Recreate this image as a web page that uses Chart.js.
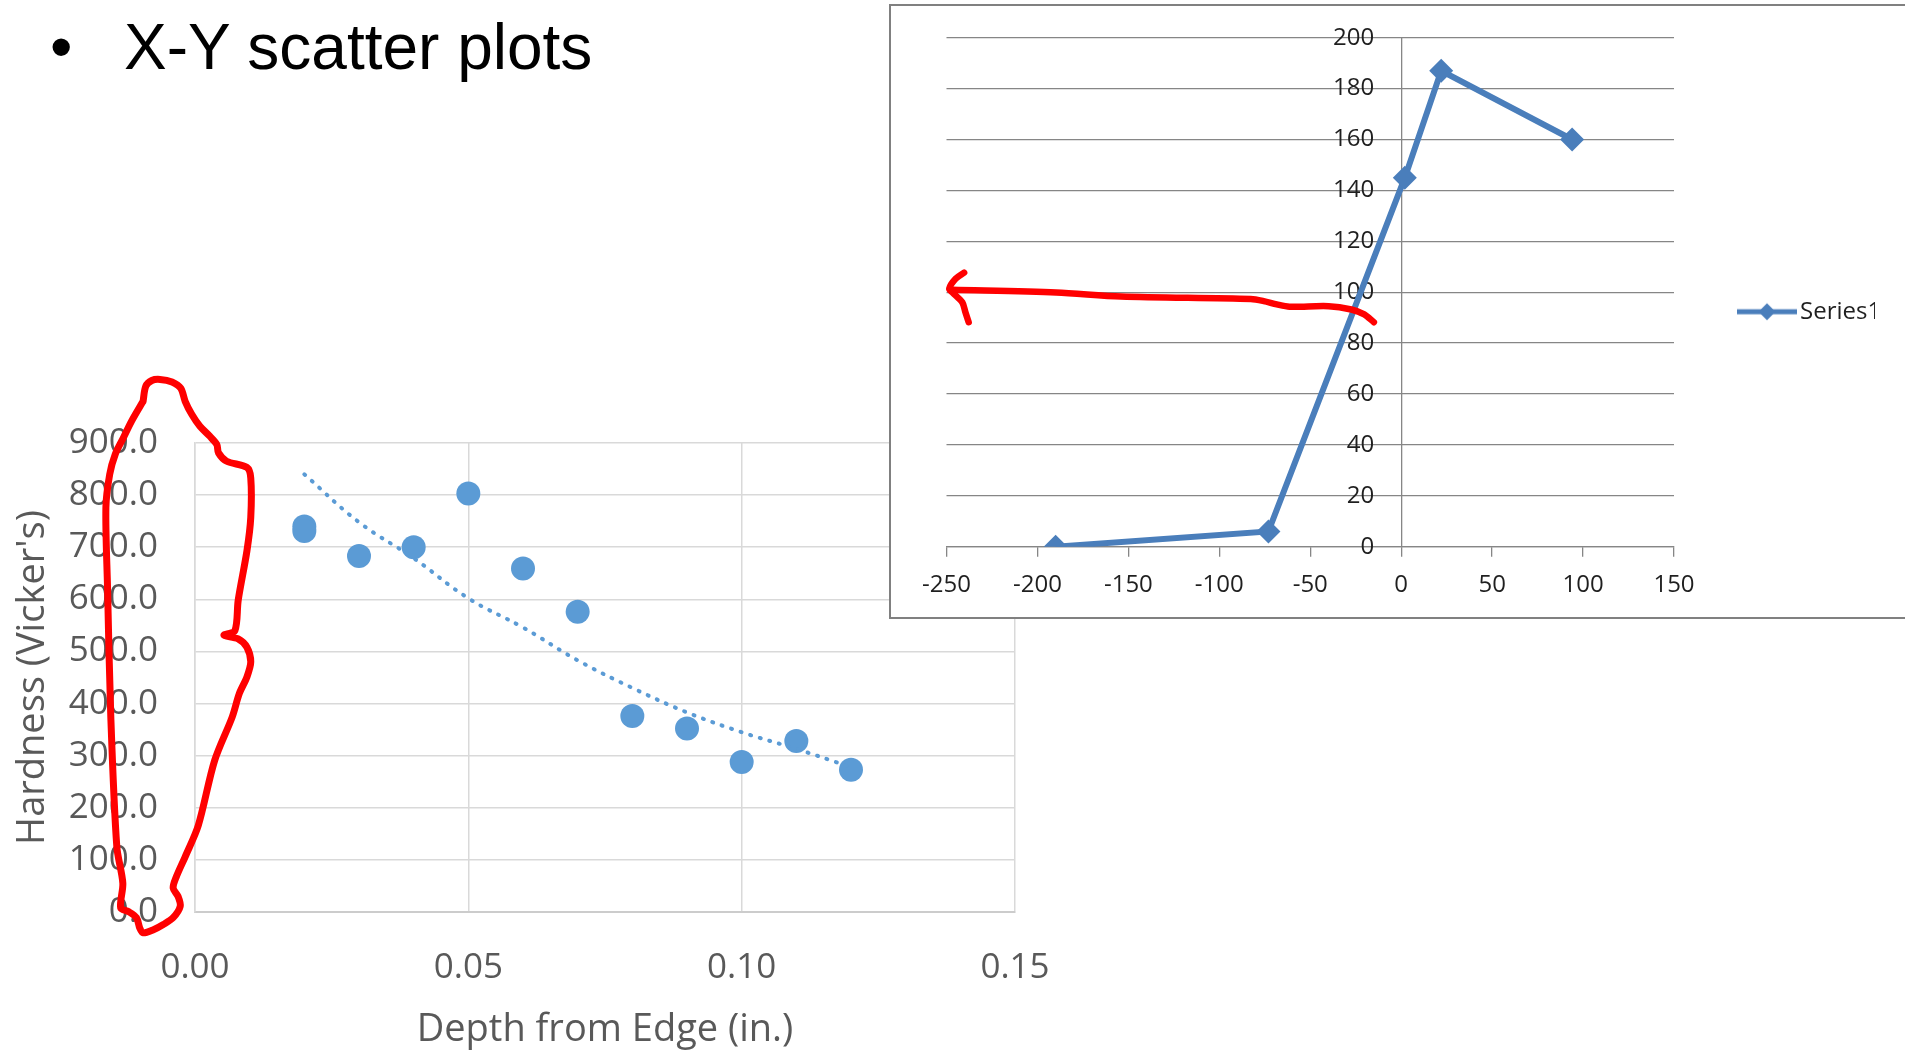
<!DOCTYPE html>
<html>
<head>
<meta charset="utf-8">
<script src="https://cdn.jsdelivr.net/npm/chart.js@4.4.1/dist/chart.umd.min.js"></script>
<style>
  html, body { margin: 0; padding: 0; background: #fff; }
  body { width: 1905px; height: 1051px; overflow: hidden; position: relative; }
  .bullet, .heading { position: absolute; top: 15px; font: 64px 'Liberation Sans', Arial, sans-serif; line-height: 1; color: #000; white-space: nowrap; }
  .bullet  { left: 50px; }
  .heading { left: 124px; }
  #hardness { position: absolute; left: 0; top: 360px; }
  .inset { position: absolute; left: 889px; top: 4px; width: 1030px; height: 611px; border: 2px solid #808080; border-right: none; background: #fff; z-index: 2; }
  #series { display: block; }
</style>
</head>
<body>
<div class="bullet">•</div>
<div class="heading">X-Y scatter plots</div>
<canvas id="hardness" width="1090" height="691"></canvas>
<div class="inset"><canvas id="series" width="1014" height="611"></canvas></div>
<script>
/* ─── Data: hardness chart ───────────────────────────────────────────────── */
const depth         = [0.02, 0.02, 0.03, 0.04, 0.05, 0.06, 0.07, 0.08, 0.09, 0.10, 0.11, 0.12];
const hardness      = [740, 731, 683, 700, 803, 659, 576, 376, 352, 288, 328, 273];
const trendDepth    = [0.02, 0.03, 0.04, 0.05, 0.06, 0.07, 0.08, 0.09, 0.10, 0.11, 0.12];
const trendHardness = [840, 748, 679, 602, 546, 483, 430, 383, 345, 313, 278];
const depthTicks    = [0, 0.05, 0.10, 0.15];
const hardnessTicks = [0, 100, 200, 300, 400, 500, 600, 700, 800, 900];

// red freehand loop in axis units
const loopX = [-0.0095, -0.0090, -0.0079, -0.0064, -0.0042, -0.0026, -0.0018, -0.0006, 0.0009, 0.0027,
               0.0040, 0.0043, 0.0058, 0.0095, 0.0102, 0.0102, 0.0095, 0.0079, 0.0073, 0.0053,
               0.0079, 0.0095, 0.0102, 0.0095, 0.0081, 0.0068, 0.0036, 0.0006, -0.0018, -0.0034,
               -0.0040, -0.0031, -0.0027, -0.0040, -0.0058, -0.0076, -0.0095, -0.0101, -0.0107, -0.0122,
               -0.0136, -0.0132, -0.0143, -0.0154, -0.0160, -0.0163, -0.0156, -0.0146, -0.0131, -0.0116, -0.0095];
const loopY = [980, 1009, 1020, 1022, 1017, 1005, 980, 955, 932, 913,
               897, 881, 865, 853, 833, 757, 693, 598, 540, 531,
               524, 508, 480, 451, 419, 374, 291, 166, 106, 68,
               46, 30, 11, -11, -24, -34, -40, -31, -11, 1,
               8, 55, 125, 374, 623, 776, 840, 878, 910, 942, 980];

/* ─── Data: inset chart ──────────────────────────────────────────────────── */
const seriesX     = [-190, -73, 2, 22, 94];
const seriesY     = [0, 6, 145, 187, 160];
const insetXTicks = [-250, -200, -150, -100, -50, 0, 50, 100, 150];
const insetYTicks = [0, 20, 40, 60, 80, 100, 120, 140, 160, 180, 200];

// red arrow annotation
const arrowX = [-15, -20.3, -27.4, -39.9, -61.4, -68.4, -75.6, -82.7, -154, -189.7, -246.7];
const arrowY = [88.2, 91.3, 93.2, 94.5, 94.3, 95.2, 96.5, 97.3, 98.3, 99.9, 101];
const hookX  = [-240.3, -245, -248.5, -246.7, -241.3, -239.6, -237.8];
const hookY  = [107.7, 105.3, 101.4, 99.9, 96, 92.1, 88.2];

/* ─── Helpers ────────────────────────────────────────────────────────────── */
const pts      = (xs, ys) => xs.map((x, i) => ({ x, y: ys[i] }));
const fixTicks = vals => scale => { scale.ticks = vals.map(value => ({ value })); };

const RED   = '#ff0000';
const LBLUE = '#5b9bd5';
const BLUE  = '#4a7ebb';
const GREY  = '#595959';
const SANS  = "'Open Sans', sans-serif";

Chart.defaults.animation = false;
Chart.defaults.events = [];

/* ─── Hardness chart ─────────────────────────────────────────────────────── */
new Chart(document.getElementById('hardness'), {
  type: 'scatter',
  data: {
    datasets: [
      {
        label: 'Annotation',
        data: pts(loopX, loopY),
        showLine: true,
        borderColor: RED,
        borderWidth: 7,
        borderCapStyle: 'round',
        borderJoinStyle: 'round',
        pointRadius: 0,
        tension: 0.3,
        clip: false,
        order: 0
      },
      {
        label: 'Expon. trend',
        data: pts(trendDepth, trendHardness),
        showLine: true,
        borderColor: LBLUE,
        borderWidth: 4,
        borderDash: [1, 9],
        borderCapStyle: 'round',
        pointRadius: 0,
        tension: 0.4,
        order: 1
      },
      {
        label: 'Hardness',
        data: pts(depth, hardness),
        pointRadius: 12,
        pointBackgroundColor: LBLUE,
        pointBorderWidth: 0,
        order: 2
      }
    ]
  },
  options: {
    responsive: false,
    layout: { padding: { top: 83, right: 75, bottom: 0, left: 0 } },
    plugins: { legend: { display: false }, tooltip: { enabled: false } },
    scales: {
      x: {
        type: 'linear', min: 0, max: 0.15,
        afterBuildTicks: fixTicks(depthTicks),
        afterFit: s => { s.height = 139; },
        grid:   { color: '#d9d9d9', lineWidth: 1.5, drawTicks: false },
        border: { color: '#cccccc', width: 2 },
        ticks:  { padding: 35, color: GREY, font: { family: SANS, size: 35 }, callback: v => v.toFixed(2) },
        title:  { display: true, text: 'Depth from Edge (in.)', color: GREY,
                  font: { family: SANS, size: 38, lineHeight: 1 }, padding: { top: 0, bottom: 2 } }
      },
      y: {
        type: 'linear', min: 0, max: 900,
        afterBuildTicks: fixTicks(hardnessTicks),
        afterFit: s => { s.width = 195; },
        grid:   { color: '#d9d9d9', lineWidth: 1.5, drawTicks: false },
        border: { color: '#d9d9d9', width: 1.5 },
        ticks:  { padding: 37, color: GREY, font: { family: SANS, size: 35 }, callback: v => v.toFixed(1) },
        title:  { display: true, text: "Hardness (Vicker's)", color: GREY,
                  font: { family: SANS, size: 38 }, padding: { top: 10, bottom: 0 } }
      }
    }
  }
});

/* ─── Inset chart ────────────────────────────────────────────────────────── */
// legend symbol: line with a diamond, like the spreadsheet legend
const legendMark = document.createElement('canvas');
legendMark.width = 60;
legendMark.height = 20;
const mk = legendMark.getContext('2d');
mk.strokeStyle = BLUE;
mk.lineWidth = 5;
mk.beginPath(); mk.moveTo(0, 10); mk.lineTo(60, 10); mk.stroke();
mk.fillStyle = BLUE;
mk.beginPath(); mk.moveTo(30, 1.5); mk.lineTo(38.5, 10); mk.lineTo(30, 18.5); mk.lineTo(21.5, 10); mk.closePath(); mk.fill();

const insetFont = { family: SANS, size: 24 };

new Chart(document.getElementById('series'), {
  type: 'scatter',
  data: {
    datasets: [
      {
        label: 'Series1',
        data: pts(seriesX, seriesY),
        xAxisID: 'x', yAxisID: 'y',
        showLine: true,
        borderColor: BLUE,
        borderWidth: 6,
        pointStyle: 'rectRot',
        pointRadius: 12,
        pointBackgroundColor: BLUE,
        pointBorderWidth: 0,
        order: 1
      },
      {
        label: 'Arrow',
        data: pts(arrowX, arrowY),
        xAxisID: 'x', yAxisID: 'y',
        showLine: true,
        borderColor: RED,
        borderWidth: 6.5,
        borderCapStyle: 'round',
        borderJoinStyle: 'round',
        pointRadius: 0,
        tension: 0.3,
        clip: false,
        order: 0
      },
      {
        label: 'Arrow head',
        data: pts(hookX, hookY),
        xAxisID: 'x', yAxisID: 'y',
        showLine: true,
        borderColor: RED,
        borderWidth: 6.5,
        borderCapStyle: 'round',
        borderJoinStyle: 'round',
        pointRadius: 0,
        tension: 0.3,
        clip: false,
        order: 0
      }
    ]
  },
  options: {
    responsive: false,
    layout: { padding: { left: 55.5, top: 31.7, right: 30, bottom: 0 } },
    plugins: {
      tooltip: { enabled: false },
      legend: {
        position: 'right',
        fullSize: false,
        maxWidth: 201,
        // empty title only pushes the single entry down to where the original sits
        title: { display: true, text: ' ', font: { family: SANS, size: 24 }, padding: { top: 0, bottom: 10.2 } },
        labels: {
          usePointStyle: true,
          pointStyle: legendMark,
          pointStyleWidth: 42,
          padding: 72,
          color: '#1f1f1f',
          font: insetFont,
          filter: item => item.text === 'Series1'
        }
      }
    },
    scales: {
      x: {
        type: 'linear', min: -250, max: 150, position: 'bottom',
        afterBuildTicks: fixTicks(insetXTicks),
        afterFit: s => { s.height = 70.3; },
        grid:   { drawOnChartArea: false, drawTicks: true, tickLength: 10, color: '#868686', lineWidth: 1.3 },
        border: { color: '#868686', width: 1.3 },
        ticks:  { padding: 14, color: '#1f1f1f', font: insetFont }
      },
      y: {
        type: 'linear', axis: 'y', min: 0, max: 200, position: { x: 0 },
        afterBuildTicks: fixTicks(insetYTicks),
        grid:   { color: '#868686', lineWidth: 1.3, drawTicks: false },
        border: { color: '#868686', width: 1.3 },
        ticks:  { display: false }
      },
      yLabels: {
        type: 'linear', axis: 'y', min: 0, max: 200, position: { x: -14.84 },
        afterBuildTicks: fixTicks(insetYTicks),
        grid:   { display: false },
        border: { display: false },
        ticks:  { color: '#1f1f1f', font: insetFont }
      }
    }
  }
});
</script>
</body>
</html>
